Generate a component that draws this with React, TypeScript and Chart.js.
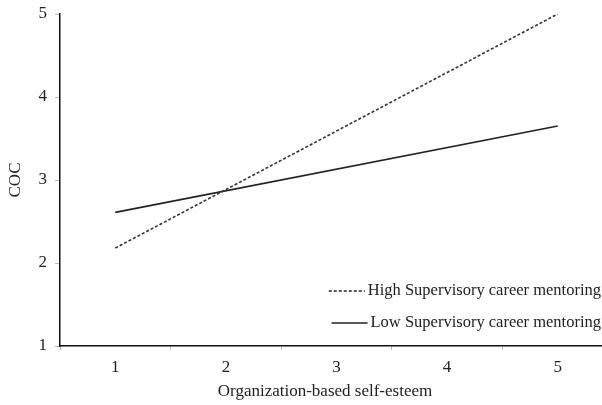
import React, { useEffect, useRef } from "react";
import { Chart, registerables } from "chart.js";

Chart.register(...registerables);

const categories = ["1", "2", "3", "4", "5"];
const yTicks = [1, 2, 3, 4, 5];
const highX = ["1", "5"];
const highY = [2.18, 5.0];
const lowX = ["1", "5"];
const lowY = [2.61, 3.65];
const highLabel = "High Supervisory career mentoring";
const lowLabel = "Low Supervisory career mentoring";
const xTitle = "Organization-based self-esteem";
const yTitle = "COC";

const FONT = "'Liberation Serif', 'Times New Roman', serif";

export default function App() {
  const ref = useRef<HTMLCanvasElement | null>(null);
  useEffect(() => {
    document.body.style.margin = "0";
    const canvas = ref.current!;
    const extras = {
      id: "extras",
      afterDraw(chart: any) {
        const ctx = chart.ctx;
        const area = chart.chartArea;
        ctx.save();
        ctx.fillStyle = "#222";
        ctx.font = `17px ${FONT}`;
        ctx.textBaseline = "middle";
        // x title
        ctx.textAlign = "center";
        ctx.fillText(xTitle, 325, 392);
        // y title
        ctx.save();
        ctx.translate(16, (area.top + area.bottom) / 2);
        ctx.rotate(-Math.PI / 2);
        ctx.fillText(yTitle, 0, 0);
        ctx.restore();
        // legend
        ctx.textAlign = "right";
        ctx.font = `16.5px ${FONT}`;
        const rows = [
          { label: highLabel, dash: [3, 2], y: 291 },
          { label: lowLabel, dash: [], y: 323 },
        ];
        rows.forEach((r) => {
          ctx.fillStyle = "#222";
          ctx.fillText(r.label, 601, r.y);
          const w = ctx.measureText(r.label).width;
          const x1 = 601 - w - 3;
          ctx.strokeStyle = "#222";
          ctx.lineWidth = 1.3;
          ctx.setLineDash(r.dash);
          ctx.beginPath();
          ctx.moveTo(x1 - 36, r.y);
          ctx.lineTo(x1, r.y);
          ctx.stroke();
        });
        ctx.restore();
      },
    };
    const chart = new Chart(canvas, {
      type: "line",
      data: {
        labels: categories,
        datasets: [
          {
            label: highLabel,
            data: highX.map((x, i) => ({ x, y: highY[i] })),
            borderColor: "#333",
            borderWidth: 1.6,
            borderDash: [3, 2],
            pointRadius: 0,
            spanGaps: true,
            tension: 0,
          },
          {
            label: lowLabel,
            data: lowX.map((x, i) => ({ x, y: lowY[i] })),
            borderColor: "#222",
            borderWidth: 1.6,
            pointRadius: 0,
            spanGaps: true,
            tension: 0,
          },
        ],
      },
      options: {
        animation: false,
        responsive: false,
        devicePixelRatio: 1,
        layout: { padding: { top: 14, right: 7, left: 0, bottom: 0 } },
        plugins: { legend: { display: false }, tooltip: { enabled: false } },
        scales: {
          x: {
            type: "category",
            offset: true,
            grid: {
              offset: true,
              drawOnChartArea: false,
              drawTicks: true,
              tickLength: 4,
              tickColor: "#bbb",
            },
            border: { display: true, color: "#111", width: 1.5 },
            ticks: { color: "#222", font: { family: FONT, size: 17 }, padding: 7, maxRotation: 0 },
            afterFit: (s: any) => {
              s.height = 59;
              s.paddingLeft = 0;
              s.paddingRight = 0;
            },
          },
          y: {
            type: "linear",
            min: 1,
            max: 5,
            afterBuildTicks: (s: any) => {
              s.ticks = yTicks.map((v) => ({ value: v }));
            },
            grid: {
              drawOnChartArea: false,
              drawTicks: true,
              tickLength: 5,
              tickColor: "#bbb",
            },
            border: { display: true, color: "#111", width: 1.5 },
            ticks: { color: "#222", font: { family: FONT, size: 17 }, padding: 8 },
            afterFit: (s: any) => {
              s.width = 60;
              s.paddingTop = 0;
              s.paddingBottom = 0;
            },
          },
        },
      },
      plugins: [extras],
    });
    return () => chart.destroy();
  }, []);
  return (
    <div style={{ position: "absolute", left: 0, top: 0, width: 602, height: 405, overflow: "hidden", background: "#fff" }}>
      <canvas ref={ref} width={620} height={405} style={{ display: "block" }} />
    </div>
  );
}
